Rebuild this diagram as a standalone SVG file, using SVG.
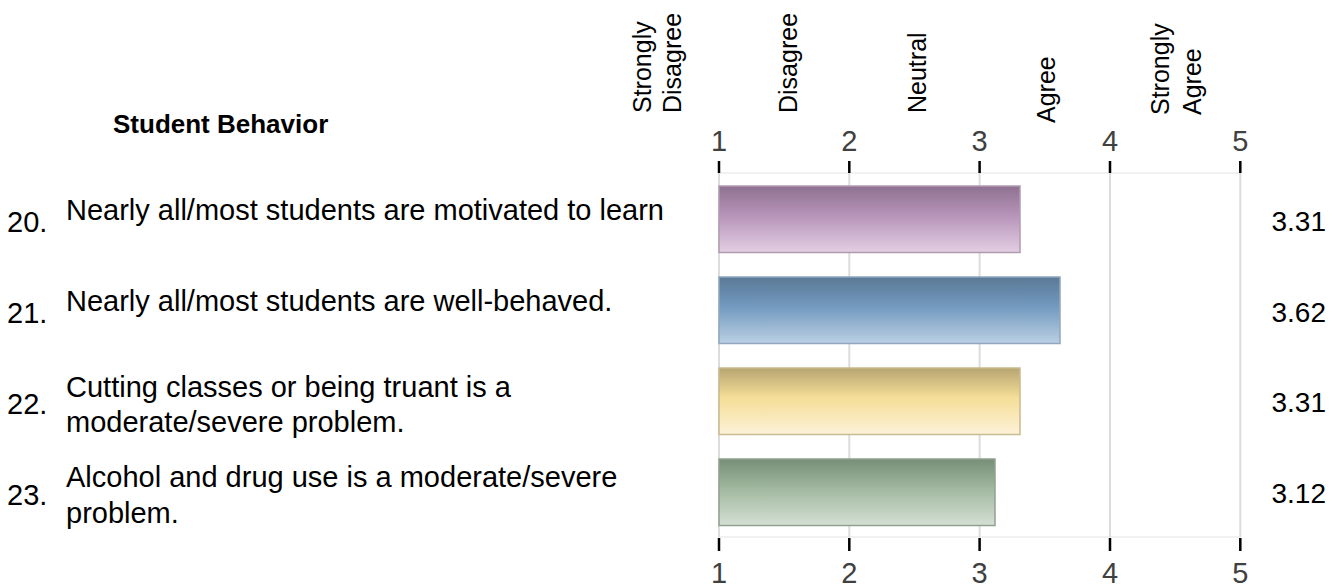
<svg xmlns="http://www.w3.org/2000/svg" width="1341" height="587" viewBox="0 0 1341 587">
<style>
text{font-family:"Liberation Sans",Arial,sans-serif;fill:#000}
.hdr{font-size:26px;font-weight:bold}
.item{font-size:29px}
.num{font-size:29px}
.val{font-size:28px;text-anchor:end}
.cat{font-size:25px}
.tick{font-size:29px;fill:#404040;text-anchor:middle}
.grid{stroke:#dcdcdc;stroke-width:2}
.axis{stroke:#ececec;stroke-width:1.5}
.tk{stroke:#000;stroke-width:2.5}
</style>
<defs>
<linearGradient id="gP" x1="0" y1="0" x2="0" y2="1">
<stop offset="0" stop-color="#8e7190"/><stop offset="0.45" stop-color="#b794ba"/><stop offset="1" stop-color="#e3cfe3"/>
</linearGradient>
<linearGradient id="gB" x1="0" y1="0" x2="0" y2="1">
<stop offset="0" stop-color="#5a7995"/><stop offset="0.45" stop-color="#739abf"/><stop offset="1" stop-color="#bbd0e4"/>
</linearGradient>
<linearGradient id="gY" x1="0" y1="0" x2="0" y2="1">
<stop offset="0" stop-color="#b7a571"/><stop offset="0.45" stop-color="#f5de98"/><stop offset="1" stop-color="#fcf2d8"/>
</linearGradient>
<linearGradient id="gG" x1="0" y1="0" x2="0" y2="1">
<stop offset="0" stop-color="#778e77"/><stop offset="0.45" stop-color="#a2b9a0"/><stop offset="1" stop-color="#d4e0d4"/>
</linearGradient>
</defs>
<rect width="1341" height="587" fill="#fff"/>

<g id="header">
<text class="hdr" x="113" y="133">Student Behavior</text>
</g>

<g id="categories">
<text class="cat" transform="translate(651,113) rotate(-90)">Strongly</text>
<text class="cat" transform="translate(681,113) rotate(-90)">Disagree</text>
<text class="cat" transform="translate(797,113) rotate(-90)">Disagree</text>
<text class="cat" transform="translate(926,113) rotate(-90)">Neutral</text>
<text class="cat" transform="translate(1055,123) rotate(-90)">Agree</text>
<text class="cat" transform="translate(1169,115) rotate(-90)">Strongly</text>
<text class="cat" transform="translate(1201,115) rotate(-90)">Agree</text>
</g>

<g id="connectors">
<line class="axis" x1="719" y1="173" x2="1240.3" y2="173"/>
<line class="axis" x1="719" y1="537" x2="1240.3" y2="537"/>
<line class="grid" x1="719" y1="173" x2="719" y2="537"/>
<line class="grid" x1="849.3" y1="173" x2="849.3" y2="537"/>
<line class="grid" x1="979.6" y1="173" x2="979.6" y2="537"/>
<line class="grid" x1="1110" y1="173" x2="1110" y2="537"/>
<line class="grid" x1="1240.3" y1="173" x2="1240.3" y2="537"/>
<line class="tk" x1="719" y1="161" x2="719" y2="173"/>
<line class="tk" x1="849.3" y1="161" x2="849.3" y2="173"/>
<line class="tk" x1="979.6" y1="161" x2="979.6" y2="173"/>
<line class="tk" x1="1110" y1="161" x2="1110" y2="173"/>
<line class="tk" x1="1240.3" y1="161" x2="1240.3" y2="173"/>
<line class="tk" x1="719" y1="538" x2="719" y2="551"/>
<line class="tk" x1="849.3" y1="538" x2="849.3" y2="551"/>
<line class="tk" x1="979.6" y1="538" x2="979.6" y2="551"/>
<line class="tk" x1="1110" y1="538" x2="1110" y2="551"/>
<line class="tk" x1="1240.3" y1="538" x2="1240.3" y2="551"/>
</g>

<g id="axis-top">
<text class="tick" x="719" y="151">1</text>
<text class="tick" x="849.3" y="151">2</text>
<text class="tick" x="979.6" y="151">3</text>
<text class="tick" x="1110" y="151">4</text>
<text class="tick" x="1240.3" y="151">5</text>
</g>
<g id="axis-bottom">
<text class="tick" x="719" y="583">1</text>
<text class="tick" x="849.3" y="583">2</text>
<text class="tick" x="979.6" y="583">3</text>
<text class="tick" x="1110" y="583">4</text>
<text class="tick" x="1240.3" y="583">5</text>
</g>

<g id="row-20">
<text class="num" x="7" y="232">20.</text>
<text class="item" x="66" y="220">Nearly all/most students are motivated to learn</text>
<rect x="719" y="186" width="301" height="66.5" fill="url(#gP)" stroke="#b19bb2" stroke-width="1.5"/>
<text class="val" x="1326" y="231">3.31</text>
</g>

<g id="row-21">
<text class="num" x="7" y="323">21.</text>
<text class="item" x="66" y="311">Nearly all/most students are well-behaved.</text>
<rect x="719" y="277" width="341" height="66.5" fill="url(#gB)" stroke="#90a7bf" stroke-width="1.5"/>
<text class="val" x="1326" y="322">3.62</text>
</g>

<g id="row-22">
<text class="num" x="7" y="414">22.</text>
<text class="item" x="66" y="397">Cutting classes or being truant is a</text>
<text class="item" x="66" y="432">moderate/severe problem.</text>
<rect x="719" y="368" width="301" height="66.5" fill="url(#gY)" stroke="#c8bb8f" stroke-width="1.5"/>
<text class="val" x="1326" y="412">3.31</text>
</g>

<g id="row-23">
<text class="num" x="7" y="505">23.</text>
<text class="item" x="66" y="487">Alcohol and drug use is a moderate/severe</text>
<text class="item" x="66" y="523">problem.</text>
<rect x="719" y="459" width="276" height="66.5" fill="url(#gG)" stroke="#90a190" stroke-width="1.5"/>
<text class="val" x="1326" y="503">3.12</text>
</g>
</svg>
